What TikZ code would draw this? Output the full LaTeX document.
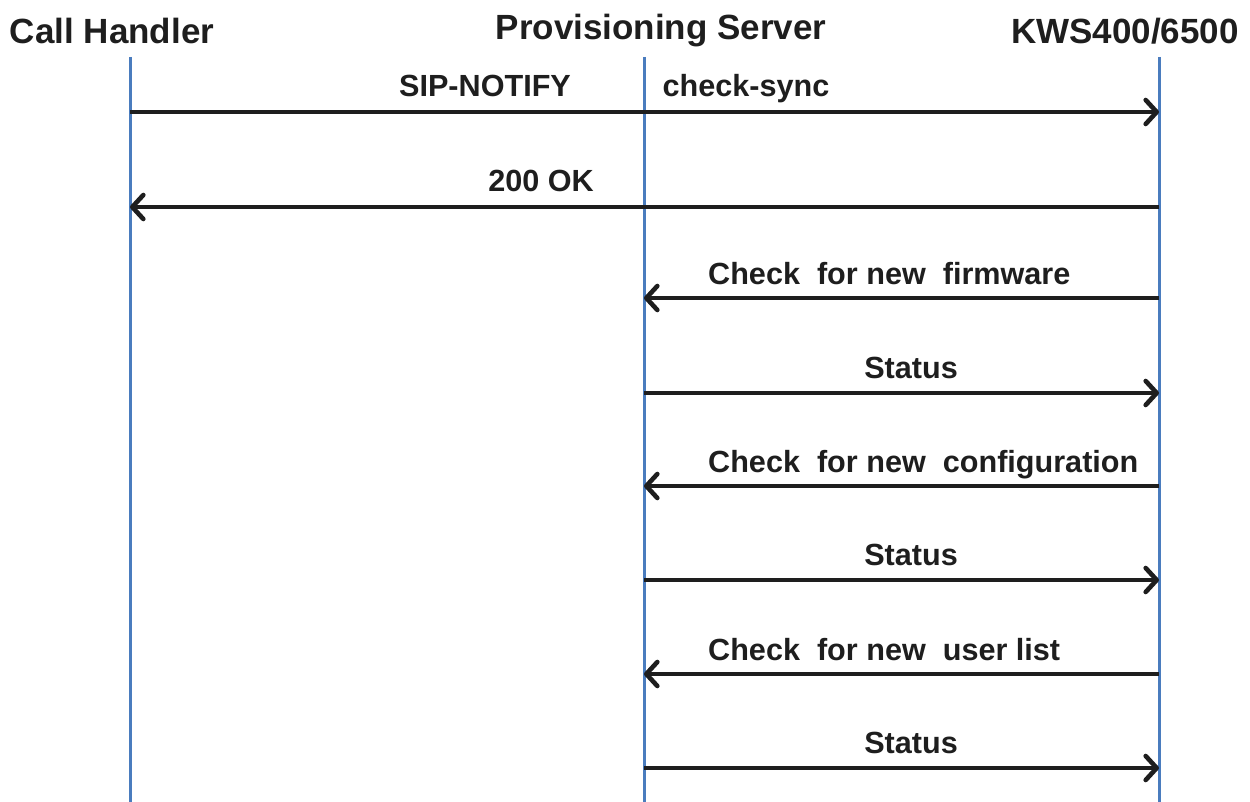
\documentclass[tikz,border=0pt]{standalone}
\usepackage{fontspec}
\setmainfont{Liberation Sans}
\usetikzlibrary{arrows.meta}
\definecolor{lifeblue}{RGB}{74,124,190}
\definecolor{msgblack}{RGB}{30,30,30}
\tikzset{
	actor/.style={font=\fontsize{35}{40}\selectfont\bfseries, text=msgblack},
	lifeline/.style={draw=lifeblue, line width=3pt},
	msg/.style={draw=msgblack, line width=4pt, -{Straight Barb[length=11pt,width=24pt,line width=4.6pt,line cap=round,line join=round]}},
	lbl/.style={font=\fontsize{30.6}{34}\selectfont\bfseries, text=msgblack, anchor=base, inner sep=0pt}
}
\begin{document}
\begin{tikzpicture}[x=1pt,y=1pt]
	\useasboundingbox (0,0) rectangle (1250,-802);
	% actors
	\node[actor] (ch) at (112,-31) {Call Handler};
	\node[actor] (ps) at (661,-31) {Provisioning Server};
	\node[actor] (kw) at (1125,-31) {KWS400/6500};
	\coordinate (chtop) at (130,-57); \coordinate (chbot) at (130,-802);
	\coordinate (pstop) at (644,-57); \coordinate (psbot) at (644,-802);
	\coordinate (kwtop) at (1159,-57); \coordinate (kwbot) at (1159,-802);
	\draw[lifeline] (chtop) -- (chbot);
	\draw[lifeline] (pstop) -- (psbot);
	\draw[lifeline] (kwtop) -- (kwbot);
	% message points on the lifelines
	\foreach \i/\y in {1/112,2/207,3/298,4/393,5/486,6/580,7/674,8/768}{
		\coordinate (ch\i) at (130,-\y);
		\coordinate (ps\i) at (644,-\y);
		\coordinate (kw\i) at (1159,-\y);
	}
	\draw[msg] (ch1) -- (kw1);
	\node[lbl] (sip) at (485,-97) {SIP-NOTIFY};
	\node[lbl] (sync) at (746,-97) {check-sync};
	\draw[msg] (kw2) -- (ch2);
	\node[lbl] (ok) at (541,-192) {200 OK};
	\draw[msg] (kw3) -- (ps3);
	\node[lbl, anchor=base west] (fw) at (708,-284) {Check\ \ for new\ \ firmware};
	\draw[msg] (ps4) -- (kw4);
	\node[lbl] (st1) at (911,-378) {Status};
	\draw[msg] (kw5) -- (ps5);
	\node[lbl, anchor=base west] (cfg) at (708,-472) {Check\ \ for new\ \ configuration};
	\draw[msg] (ps6) -- (kw6);
	\node[lbl] (st2) at (911,-565) {Status};
	\draw[msg] (kw7) -- (ps7);
	\node[lbl, anchor=base west] (ul) at (708,-660) {Check\ \ for new\ \ user list};
	\draw[msg] (ps8) -- (kw8);
	\node[lbl] (st3) at (911,-753) {Status};
\end{tikzpicture}
\end{document}
